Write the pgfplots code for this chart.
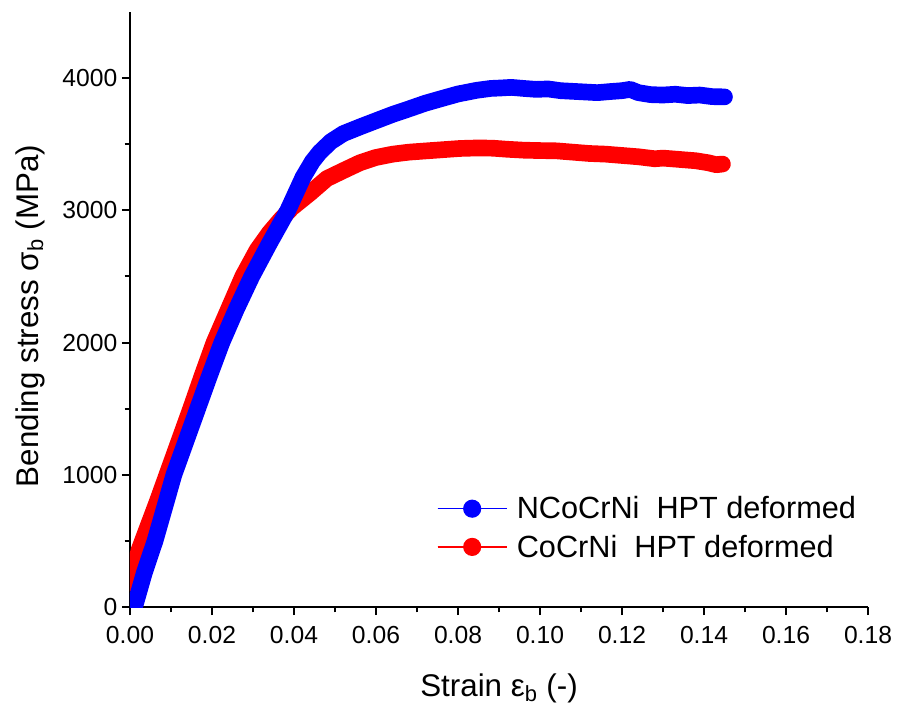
\documentclass[border=0pt]{standalone}
\usepackage{pgfplots}
\pgfplotsset{compat=1.18}
\usepackage{fontspec}
\setmainfont{Liberation Sans}

\pgfplotstableread{
x y
0.0012 10
0.0035 260
0.0061 500
0.0085 760
0.0107 1000
0.0136 1250
0.0165 1500
0.0194 1750
0.0224 2000
0.0259 2250
0.0297 2500
0.0340 2750
0.0385 3000
0.0422 3250
0.0445 3370
0.0463 3440
0.0490 3520
0.0520 3580
0.0560 3630
0.0602 3680
0.0640 3725
0.0683 3770
0.0720 3810
0.0763 3848
0.0800 3880
0.0846 3908
0.0880 3922
0.0902 3925
0.0930 3930
0.0960 3922
0.0990 3915
0.1020 3918
0.1050 3905
0.1080 3900
0.1110 3895
0.1140 3890
0.1170 3898
0.1200 3905
0.1220 3915
0.1240 3890
0.1270 3875
0.1300 3872
0.1330 3878
0.1360 3868
0.1390 3872
0.1420 3860
0.1450 3858
}\blue

\pgfplotstableread{
x y
0.0004 180
0.0022 430
0.0045 620
0.0068 810
0.0090 1000
0.0119 1250
0.0148 1500
0.0176 1750
0.0205 2000
0.0240 2250
0.0275 2500
0.0310 2700
0.0340 2830
0.0366 2925
0.0395 3020
0.0439 3130
0.0480 3240
0.0520 3300
0.0561 3360
0.0600 3400
0.0641 3425
0.0680 3440
0.0724 3450
0.0760 3458
0.0805 3468
0.0850 3472
0.0885 3470
0.0920 3462
0.0960 3455
0.1000 3452
0.1040 3450
0.1080 3440
0.1120 3430
0.1160 3425
0.1200 3415
0.1240 3405
0.1280 3390
0.1300 3395
0.1340 3385
0.1380 3375
0.1410 3360
0.1430 3345
0.1445 3350
}\red

\begin{document}
\begin{tikzpicture}
\begin{axis}[
  at={(0,0)}, anchor=south west,
  scale only axis,
  width=553.5pt, height=446.25pt,
  xmin=0, xmax=0.18, ymin=0, ymax=4500,
  axis x line=bottom, axis y line=left,
  axis line style={-, line width=1.5pt},
  tick style={black, line width=1.5pt},
  minor tick style={black, line width=1.5pt},
  tick align=outside,
  major tick length=6pt, minor tick length=4pt,
  xtick={0,0.02,...,0.18},
  minor x tick num=1,
  ytick={0,1000,2000,3000,4000},
  minor y tick num=1,
  /pgf/number format/assume math mode=true,
  xticklabel style={/pgf/number format/.cd, fixed, fixed zerofill, precision=2, /tikz/yshift=-5pt},
  yticklabel style={/pgf/number format/1000 sep={}},
  scaled x ticks=false,
  tick label style={font=\fontsize{18.5}{22}\selectfont},
  label style={font=\fontsize{23.5}{28}\selectfont},
  xlabel={Strain ε\textsubscript{b} (-)},
  ylabel={Bending stress σ\textsubscript{b} (MPa)},
  x label style={at={(axis description cs:0.5,-0.137)}, anchor=center},
  y label style={at={(axis description cs:-0.1355,0.489)}, anchor=center},
  legend style={draw=none, fill=none, font=\fontsize{23}{27}\selectfont,
    at={(0.41,0.195)}, anchor=north west, row sep=6.5pt, column sep=5pt},
  legend cell align=left,
  legend image code/.code={\draw[mark repeat=2,mark phase=2,#1] plot coordinates {(0pt,0pt) (26pt,0pt) (52pt,0pt)};},
]
\addplot[red, line width=12.5pt, line cap=round, line join=round, forget plot] table {\red};
\addplot[blue, line width=12.5pt, line cap=round, line join=round, forget plot] table {\blue};
\addlegendimage{draw=blue, fill=blue, line width=1pt, mark=*, mark size=6.3pt, mark options={draw=blue, fill=blue}}
\addlegendentry{NCoCrNi\ \ HPT deformed}
\addlegendimage{draw=red, fill=red, line width=1pt, mark=*, mark size=6.3pt, mark options={draw=red, fill=red}}
\addlegendentry{CoCrNi\ \ HPT deformed}
\end{axis}
\pgfresetboundingbox
\useasboundingbox (-97.5pt,-78pt) rectangle (576pt,455.25pt);
\end{tikzpicture}
\end{document}
